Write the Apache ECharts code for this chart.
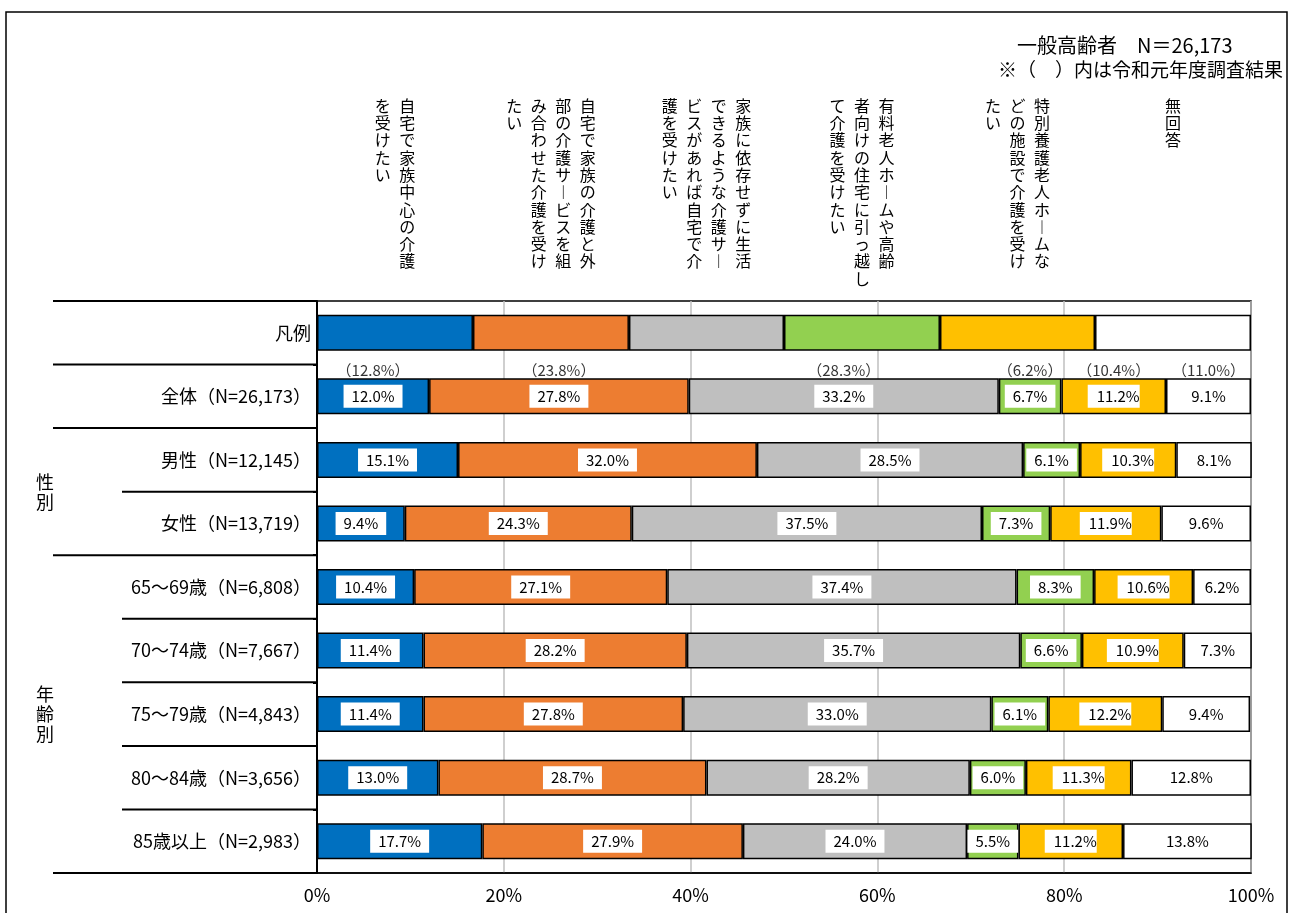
<!DOCTYPE html>
<html>
<head>
<meta charset="utf-8">
<script src="https://cdn.jsdelivr.net/npm/echarts@6/dist/echarts.min.js"></script>
<style>
html,body{margin:0;padding:0;background:#fff;}
#chart{width:1295px;height:913px;}
</style>
</head>
<body>
<div id="chart"></div>
<script>
// ---------- data ----------
const categories = ['凡例','全体（N=26,173）','男性（N=12,145）','女性（N=13,719）','65～69歳（N=6,808）','70～74歳（N=7,667）','75～79歳（N=4,843）','80～84歳（N=3,656）','85歳以上（N=2,983）'];
const seriesNames = ['自宅で家族中心の介護を受けたい','自宅で家族の介護と外部の介護サービスを組み合わせた介護を受けたい','家族に依存せずに生活できるような介護サービスがあれば自宅で介護を受けたい','有料老人ホームや高齢者向けの住宅に引っ越して介護を受けたい','特別養護老人ホームなどの施設で介護を受けたい','無回答'];
// first value of each array = the legend ("凡例") box width
const homeFamily   = [16.7, 12.0, 15.1,  9.4, 10.4, 11.4, 11.4, 13.0, 17.7];
const homeMixed    = [16.7, 27.8, 32.0, 24.3, 27.1, 28.2, 27.8, 28.7, 27.9];
const homeService  = [16.6, 33.2, 28.5, 37.5, 37.4, 35.7, 33.0, 28.2, 24.0];
const movePaidHome = [16.7,  6.7,  6.1,  7.3,  8.3,  6.6,  6.1,  6.0,  5.5];
const facility     = [16.6, 11.2, 10.3, 11.9, 10.6, 10.9, 12.2, 11.3, 11.2];
const noAnswer     = [16.7,  9.1,  8.1,  9.6,  6.2,  7.3,  9.4, 12.8, 13.8];
const previousTotal = [12.8, 23.8, 28.3, 6.2, 10.4, 11.0]; // 令和元年度 (全体)
const xTicks = [0, 20, 40, 60, 80, 100];
const headerColumns = [
  ['自宅で家族中心の介護','を受けたい'],
  ['自宅で家族の介護と外','部の介護サービスを組','み合わせた介護を受け','たい'],
  ['家族に依存せずに生活','できるような介護サー','ビスがあれば自宅で介','護を受けたい'],
  ['有料老人ホームや高齢','者向けの住宅に引っ越し','て介護を受けたい'],
  ['特別養護老人ホームな','どの施設で介護を受け','たい'],
  ['無回答']
];
const titleLines = ['一般高齢者　N＝26,173', '※（　）内は令和元年度調査結果'];
const groupLabels = [{text:'性別', from:2, to:3}, {text:'年齢別', from:4, to:8}];

// ---------- chart ----------
const FONT = '"Noto Sans CJK JP", "Noto Sans", sans-serif';
const colors = ['#0070C0','#ED7D31','#BFBFBF','#92D050','#FFC000','#FFFFFF'];
const valueArrays = [homeFamily, homeMixed, homeService, movePaidHome, facility, noAnswer];

const chart = echarts.init(document.getElementById('chart'), null, {renderer:'canvas'});

const barSeries = valueArrays.map((arr, si) => ({
  name: seriesNames[si],
  type: 'bar',
  stack: 'total',
  barWidth: 36,
  itemStyle: { color: colors[si], borderColor: '#000', borderWidth: 1.5 },
  label: {
    show: true,
    position: 'inside',
    fontFamily: FONT,
    fontSize: 15,
    color: '#000',
    backgroundColor: '#fff',
    padding: si === 4 ? [4, 0, 4, 9] : [4, 8],
    formatter: p => p.dataIndex === 0 ? '' : p.value.toFixed(1) + '%'
  },
  data: arr.map((v, i) => i === 0 ? { value: v, label: { show: false } } : v),
  z: 2
}));

// previous-year labels, centered above each segment of the 全体 row
let cum = 0;
const prevPoints = valueArrays.map((arr, si) => {
  const center = cum + arr[1] / 2;
  cum += arr[1];
  return { value: [center, categories[1]], prev: previousTotal[si] };
});

const option = {
  animation: false,
  backgroundColor: '#fff',
  grid: { left: 317, right: 44, top: 301, bottom: 40, show: true, borderColor: '#000', borderWidth: 1.5, backgroundColor: 'transparent' },
  xAxis: {
    type: 'value', min: 0, max: 100, interval: 20,
    axisLine: { show: true, lineStyle: { color: '#000', width: 1.5 } },
    axisTick: { show: false },
    splitLine: { show: true, lineStyle: { color: '#BFBFBF', width: 1.5 } },
    axisLabel: { formatter: '{value}%', fontFamily: FONT, fontSize: 18, color: '#000', margin: 13 }
  },
  yAxis: {
    type: 'category', inverse: true, data: categories,
    axisLine: { show: true, lineStyle: { color: '#000', width: 2 } },
    axisTick: { show: true, length: 4, lineStyle: { color: '#000', width: 2 } },
    axisLabel: { fontFamily: FONT, fontSize: 18, color: '#000', margin: 6 }
  },
  series: barSeries.concat([{
    type: 'scatter',
    symbolSize: 0,
    silent: true,
    data: prevPoints,
    label: {
      show: true, position: 'top', distance: 0, offset: [0, -19],
      fontFamily: FONT, fontSize: 15, color: '#000',
      formatter: p => '（' + p.data.prev.toFixed(1) + '%）'
    },
    z: 5
  }])
};
chart.setOption(option);

// ---------- decorations: header texts, separators, frame ----------
function verticalize(s) {
  return s.replace(/ー/g, '︱').split('').join('\n');
}
function buildGraphics() {
  const g = [];
  // outer frame
  g.push({ type: 'rect', shape: { x: 6, y: 12, width: 1281, height: 920 }, style: { fill: 'none', stroke: '#000', lineWidth: 1.5 }, z: 0 });
  // title lines
  g.push({ type: 'text', style: { text: titleLines[0], x: 1017, y: 45, textVerticalAlign: 'middle', font: '20px ' + FONT, fill: '#000' }, z: 10 });
  g.push({ type: 'text', style: { text: titleLines[1], x: 998, y: 70, textVerticalAlign: 'middle', font: '19px ' + FONT, fill: '#000' }, z: 10 });
  // vertical headers centered on legend boxes
  let acc = 0;
  valueArrays.forEach((arr, si) => {
    const centerVal = acc + arr[0] / 2;
    acc += arr[0];
    const cx = chart.convertToPixel({ xAxisIndex: 0 }, centerVal);
    const cols = headerColumns[si];
    const n = cols.length, gap = 24.5;
    cols.forEach((col, ci) => {
      const x = cx + ((n - 1) / 2 - ci) * gap;
      g.push({ type: 'text', style: { text: verticalize(col), x: x, y: 97, textAlign: 'center', textVerticalAlign: 'top', font: '16px ' + FONT, lineHeight: 17.3, fill: '#000' }, z: 10 });
    });
  });
  // left separator lines at category boundaries
  const y0 = chart.convertToPixel({ yAxisIndex: 0 }, categories[0]);
  const y1 = chart.convertToPixel({ yAxisIndex: 0 }, categories[1]);
  const band = y1 - y0;
  const axisX = chart.convertToPixel({ xAxisIndex: 0 }, 0);
  const longStarts = [0, 1, 2, 4, 9];
  for (let k = 0; k <= categories.length; k++) {
    const y = y0 - band / 2 + k * band;
    const xs = longStarts.indexOf(k) >= 0 ? 53 : 122;
    g.push({ type: 'line', shape: { x1: xs, y1: y, x2: axisX, y2: y }, style: { stroke: '#000', lineWidth: 2 }, z: 10 });
  }
  // group labels
  groupLabels.forEach(gl => {
    const ya = chart.convertToPixel({ yAxisIndex: 0 }, categories[gl.from]) - band / 2;
    const yb = chart.convertToPixel({ yAxisIndex: 0 }, categories[gl.to]) + band / 2;
    g.push({ type: 'text', style: { text: gl.text.split('').join('\n'), x: 45, y: (ya + yb) / 2, textAlign: 'center', textVerticalAlign: 'middle', font: '18px ' + FONT, lineHeight: 20, fill: '#000' }, z: 10 });
  });
  return g;
}
chart.setOption({ graphic: buildGraphics() });
</script>
</body>
</html>
